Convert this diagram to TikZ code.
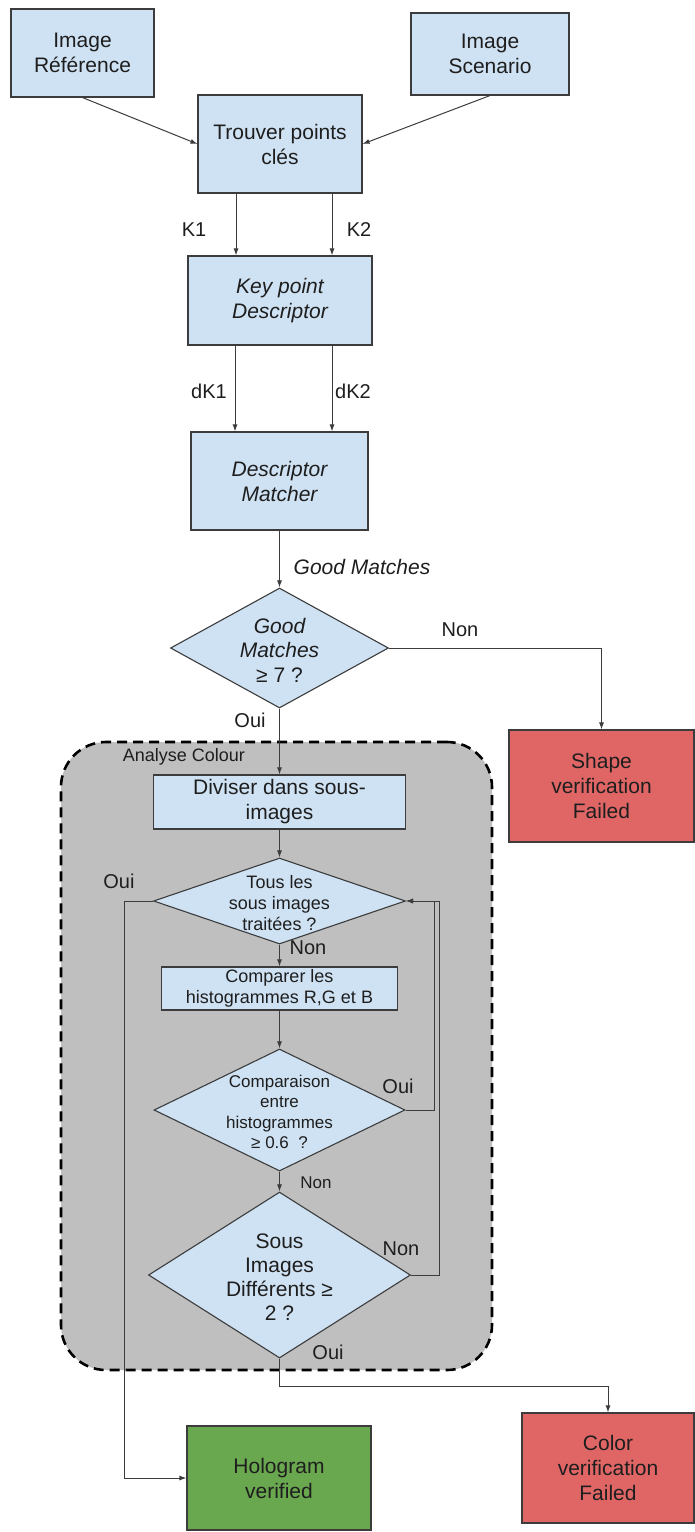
\documentclass[tikz,border=0pt]{standalone}
\usepackage{fontspec}
\setmainfont{Liberation Sans}
\usetikzlibrary{shapes.geometric,arrows.meta}
\definecolor{boxblue}{HTML}{CFE2F3}
\definecolor{boxred}{HTML}{E06666}
\definecolor{boxgreen}{HTML}{6AA84F}
\definecolor{regiongray}{HTML}{BFBFBF}
\definecolor{edge}{HTML}{3C3C3C}
\definecolor{ink}{HTML}{1E1E1E}
\begin{document}
\begin{tikzpicture}[x=1pt,y=-1pt,
  every node/.style={text=ink},
  bx/.style={draw=edge, line width=1.1pt, fill=boxblue, align=center, inner sep=0pt,
             font=\fontsize{21}{25}\selectfont},
  redbx/.style={bx, fill=boxred},
  greenbx/.style={bx, fill=boxgreen},
  dia/.style={diamond, aspect=1, draw=edge, line width=1.1pt, fill=boxblue, inner sep=0pt},
  dtext/.style={align=center, inner sep=0pt},
  lbl/.style={inner sep=0pt, font=\fontsize{20}{24}\selectfont},
  arr/.style={draw=edge, line width=1pt, -{Latex[length=7pt,width=5pt]}},
  region/.style={draw=black, fill=regiongray, line width=2.6pt, dash pattern=on 10pt off 6pt,
                 rounded corners=45pt, inner sep=0pt}
]
\useasboundingbox (0,0) rectangle (695,1532);
\fill[white] (0,0) rectangle (695,1532);

% analysis region
\node[region, minimum width=431pt, minimum height=628pt] (zone) at (276.5,1056) {};
\node[lbl, font=\fontsize{18}{22}\selectfont] (zlabel) at (184,757) {Analyse Colour};

% top boxes
\node[bx, minimum width=143pt, minimum height=88pt] (ref) at (82.5,53) {Image\\Référence};
\node[bx, minimum width=158pt, minimum height=82pt] (scen) at (490,54) {Image\\Scenario};
\node[bx, minimum width=164pt, minimum height=98pt] (trouv) at (280,144) {Trouver points\\clés};
\node[bx, minimum width=184pt, minimum height=89pt] (kpd) at (280,300.5) {\itshape Key point\\\itshape Descriptor};
\node[bx, minimum width=177pt, minimum height=98pt] (dm) at (279.5,481) {\itshape Descriptor\\\itshape Matcher};

% column coordinates for parallel connectors
\coordinate (cK1) at (236,0);
\coordinate (cK2) at (332,0);
\coordinate (cD1) at (235,0);
\coordinate (cD2) at (332,0);

% first decision
\node[dia, minimum width=218pt, minimum height=120pt] (gm) at (279.5,648) {};
\node[dtext, font=\fontsize{21}{24.5}\selectfont] (gmt) at (279.5,650) {\itshape Good\\\itshape Matches\\≥ 7 ?};
\node[redbx, minimum width=185pt, minimum height=112pt] (shape) at (601.5,786) {Shape\\verification\\Failed};

% inner flow
\node[bx, minimum width=252pt, minimum height=54pt] (div) at (279.5,802) {Diviser dans sous-\\images};
\node[dia, minimum width=252pt, minimum height=86pt] (tous) at (279.5,901) {};
\node[dtext, font=\fontsize{18}{21}\selectfont] (toust) at (279.5,903) {Tous les\\sous images\\traitées ?};
\node[bx, minimum width=236pt, minimum height=43pt, font=\fontsize{18}{21.5}\selectfont] (cmpbox) at (279.5,988.5) {Comparer les\\histogrammes R,G et B};
\node[dia, minimum width=251pt, minimum height=122pt] (cmp) at (279.5,1110) {};
\node[dtext, font=\fontsize{17}{20.5}\selectfont] (cmpt) at (279.5,1112) {Comparaison\\entre\\histogrammes\\≥ 0.6~~?};
\node[dia, minimum width=262pt, minimum height=166pt] (sous) at (279.5,1275) {};
\node[dtext, font=\fontsize{21}{24}\selectfont] (soust) at (279.5,1277) {Sous\\Images\\Différents ≥\\2 ?};

% results
\node[greenbx, minimum width=184pt, minimum height=104pt] (holo) at (279,1478) {Hologram\\verified};
\node[redbx, minimum width=172pt, minimum height=110pt] (color) at (608,1468) {Color\\verification\\Failed};

% connectors
\draw[arr] (ref.south) -- (trouv.west);
\draw[arr] (scen.south) -- (trouv.east);
\draw[arr] (trouv.south -| cK1) -- (kpd.north -| cK1);
\draw[arr] (trouv.south -| cK2) -- (kpd.north -| cK2);
\draw[arr] (kpd.south -| cD1) -- (dm.north -| cD1);
\draw[arr] (kpd.south -| cD2) -- (dm.north -| cD2);
\draw[arr] (dm.south) -- (gm.north);
\draw[arr] (gm.east) -| (shape.north);
\draw[arr] (gm.south) -- (div.north);
\draw[arr] (div.south) -- (tous.north);
\draw[arr] (tous.south) -- (cmpbox.north);
\draw[arr] (cmpbox.south) -- (cmp.north);
\draw[arr] (cmp.south) -- (sous.north);
\coordinate (loopA) at (434,1110);
\coordinate (loopB) at (439,1275);
\draw[arr] (cmp.east) -- (loopA) |- (tous.east);
\draw[arr] (sous.east) -- (loopB) |- (tous.east);
\coordinate (ouiL) at (124,901);
\draw[arr] (tous.west) -- (ouiL) |- (holo.west);
\coordinate (bend) at (279.5,1386);
\draw[arr] (sous.south) -- (bend) -| (color.north);

% labels
\node[lbl] (k1) at (194,230) {K1};
\node[lbl] (k2) at (359,230) {K2};
\node[lbl] (dk1) at (209,391) {dK1};
\node[lbl] (dk2) at (353,391) {dK2};
\node[lbl, font=\fontsize{21}{24}\selectfont\itshape] (gml) at (362,567) {Good Matches};
\node[lbl] (non1) at (460,630) {Non};
\node[lbl] (oui1) at (250,720) {Oui};
\node[lbl] (oui2) at (119,881) {Oui};
\node[lbl] (non2) at (308,948) {Non};
\node[lbl] (oui3) at (398,1086) {Oui};
\node[lbl, font=\fontsize{17}{20}\selectfont] (non3) at (316,1183) {Non};
\node[lbl] (non4) at (401,1249) {Non};
\node[lbl] (oui4) at (328,1352) {Oui};
\end{tikzpicture}
\end{document}
